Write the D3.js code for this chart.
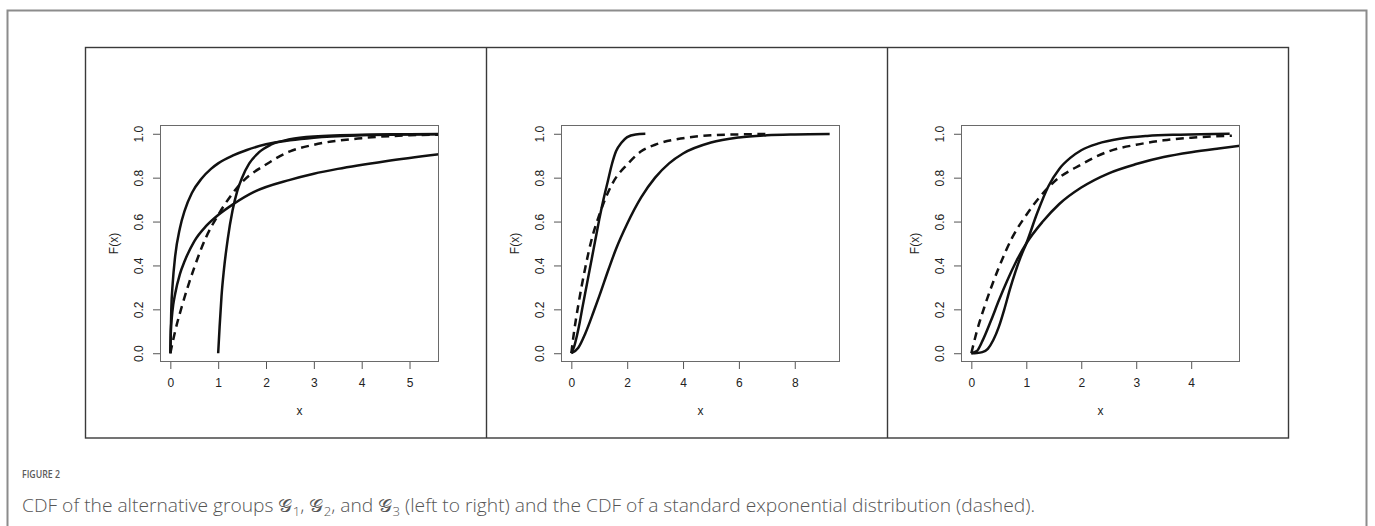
<!DOCTYPE html>
<html>
<head>
<meta charset="utf-8">
<script src="https://cdn.jsdelivr.net/npm/d3@7"></script>
<style>
  html, body { margin: 0; padding: 0; background: #fff; }
  svg { display: block; }
</style>
</head>
<body>
<svg id="chart" width="1375" height="526"></svg>
<script>
// ---------------- DATA ----------------
// Panel 1: group G1
const g1_A_x = [0, 0.02, 0.05, 0.1, 0.2, 0.3, 0.45, 0.65, 0.85, 1.0, 1.3, 1.6, 2.0, 2.5, 3.0, 4.0, 5.0, 5.62];
const g1_A_F = [0, 0.2, 0.32, 0.44, 0.57, 0.65, 0.73, 0.795, 0.84, 0.865, 0.9, 0.926, 0.952, 0.97, 0.982, 0.993, 0.997, 0.998];
const g1_B_x = [1, 1.03, 1.07, 1.12, 1.2, 1.3, 1.4, 1.5, 1.65, 1.85, 2.1, 2.5, 3.0, 4.0, 5.0, 5.62];
const g1_B_F = [0, 0.12, 0.26, 0.38, 0.52, 0.65, 0.74, 0.80, 0.865, 0.915, 0.95, 0.975, 0.988, 0.996, 0.998, 0.999];
const g1_C_x = [0, 0.01, 0.03, 0.06, 0.1, 0.2, 0.3, 0.5, 0.75, 1.0, 1.32, 1.75, 2.5, 3.0, 3.5, 4.5, 5.62];
const g1_C_F = [0, 0.1, 0.16, 0.22, 0.27, 0.36, 0.42, 0.51, 0.58, 0.63, 0.68, 0.735, 0.79, 0.818, 0.84, 0.875, 0.907];
const g1_exp_x = [0, 0.1, 0.25, 0.5, 0.75, 1.0, 1.5, 2.0, 2.5, 3.0, 4.0, 5.0, 5.62];
const g1_exp_F = [0, 0.1, 0.22, 0.39, 0.53, 0.63, 0.78, 0.86, 0.92, 0.95, 0.98, 0.993, 0.996];

// Panel 2: group G2
const g2_D_x = [0, 0.1, 0.2, 0.3, 0.4, 0.55, 0.7, 0.85, 1.0, 1.15, 1.3, 1.45, 1.6, 1.8, 2.0, 2.3, 2.65];
const g2_D_F = [0, 0.03, 0.08, 0.14, 0.21, 0.31, 0.41, 0.51, 0.61, 0.70, 0.78, 0.86, 0.92, 0.96, 0.985, 0.997, 1.0];
const g2_E_x = [0, 0.25, 0.5, 0.8, 1.0, 1.34, 1.6, 2.0, 2.5, 3.0, 3.5, 4.0, 5.0, 6.0, 7.0, 8.0, 9.25];
const g2_E_F = [0, 0.025, 0.09, 0.19, 0.26, 0.385, 0.475, 0.59, 0.71, 0.80, 0.865, 0.91, 0.96, 0.983, 0.993, 0.997, 0.999];
const g2_exp_x = [0, 0.1, 0.25, 0.5, 0.75, 1.0, 1.5, 2.0, 2.5, 3.0, 4.0, 5.0, 6.0, 6.95];
const g2_exp_F = [0, 0.1, 0.22, 0.39, 0.53, 0.63, 0.78, 0.86, 0.92, 0.95, 0.98, 0.993, 0.997, 0.999];

// Panel 3: group G3
const g3_S_x = [0, 0.1, 0.2, 0.3, 0.4, 0.5, 0.6, 0.7, 0.8, 0.9, 1.0, 1.2, 1.4, 1.6, 1.8, 2.0, 2.3, 2.7, 3.2, 3.8, 4.7];
const g3_S_F = [0, 0.001, 0.005, 0.02, 0.06, 0.12, 0.2, 0.29, 0.37, 0.44, 0.50, 0.64, 0.76, 0.84, 0.89, 0.925, 0.955, 0.977, 0.99, 0.996, 1.0];
const g3_L_x = [0, 0.1, 0.2, 0.36, 0.5, 0.66, 0.8, 1.0, 1.3, 1.6, 2.0, 2.5, 3.0, 3.5, 4.0, 4.5, 4.89];
const g3_L_F = [0, 0.01, 0.055, 0.15, 0.24, 0.335, 0.41, 0.50, 0.60, 0.68, 0.755, 0.82, 0.862, 0.894, 0.916, 0.933, 0.945];
const g3_exp_x = [0, 0.1, 0.25, 0.5, 0.75, 1.0, 1.5, 2.0, 2.5, 3.0, 3.5, 4.0, 4.74];
const g3_exp_F = [0, 0.1, 0.22, 0.39, 0.53, 0.63, 0.78, 0.86, 0.92, 0.95, 0.97, 0.982, 0.991];

// Axis tick labels
const g1_xticks = [0, 1, 2, 3, 4, 5];
const g2_xticks = [0, 2, 4, 6, 8];
const g3_xticks = [0, 1, 2, 3, 4];
const yticks = [0, 0.2, 0.4, 0.6, 0.8, 1.0];
const g1_xdomain = [-0.216, 5.616];
const g2_xdomain = [-0.37, 9.62];
const g3_xdomain = [-0.188, 4.888];
const ydomain = [-0.04, 1.04];

const xLabel = "x";
const yLabel = "F(x)";
const figLabel = "FIGURE 2";

// ---------------- DRAWING ----------------
const svg = d3.select("#chart");
svg.append("rect").attr("width", 1375).attr("height", 526).attr("fill", "#fff");

// outer figure frame
svg.append("path")
  .attr("d", "M7.5,526 V10.5 H1366.5 V526")
  .attr("fill", "none").attr("stroke", "#8c8c8c").attr("stroke-width", 2);

// panel frames
const frameLeft = 85.5, frameTop = 47.5, frameBottom = 438, panelW = 401;
svg.append("rect")
  .attr("x", frameLeft).attr("y", frameTop)
  .attr("width", panelW * 3).attr("height", frameBottom - frameTop)
  .attr("fill", "none").attr("stroke", "#3a3a3a").attr("stroke-width", 1.4);
[1, 2].forEach(i => {
  svg.append("line")
    .attr("x1", frameLeft + panelW * i).attr("x2", frameLeft + panelW * i)
    .attr("y1", frameTop).attr("y2", frameBottom)
    .attr("stroke", "#3a3a3a").attr("stroke-width", 1.4);
});

const panels = [
  { left: 160, xdomain: g1_xdomain, xticks: g1_xticks,
    series: [
      { x: g1_A_x, y: g1_A_F, dashed: false },
      { x: g1_B_x, y: g1_B_F, dashed: false },
      { x: g1_C_x, y: g1_C_F, dashed: false },
      { x: g1_exp_x, y: g1_exp_F, dashed: true }
    ] },
  { left: 561, xdomain: g2_xdomain, xticks: g2_xticks,
    series: [
      { x: g2_D_x, y: g2_D_F, dashed: false },
      { x: g2_E_x, y: g2_E_F, dashed: false },
      { x: g2_exp_x, y: g2_exp_F, dashed: true }
    ] },
  { left: 961, xdomain: g3_xdomain, xticks: g3_xticks,
    series: [
      { x: g3_S_x, y: g3_S_F, dashed: false },
      { x: g3_L_x, y: g3_L_F, dashed: false },
      { x: g3_exp_x, y: g3_exp_F, dashed: true }
    ] }
];

const plotW = 279, plotTop = 125, plotBottom = 362;
const font = "'Liberation Sans', Arial, Helvetica, sans-serif";
const fs = 12;

panels.forEach((p, i) => {
  const x = d3.scaleLinear().domain(p.xdomain).range([p.left, p.left + plotW]);
  const y = d3.scaleLinear().domain(ydomain).range([plotBottom, plotTop]);

  const clipId = "clip" + i;
  svg.append("clipPath").attr("id", clipId)
    .append("rect").attr("x", p.left).attr("y", plotTop)
    .attr("width", plotW).attr("height", plotBottom - plotTop);

  const line = d3.line().curve(d3.curveMonotoneX)
    .x(d => x(d[0])).y(d => y(d[1]));

  const g = svg.append("g").attr("clip-path", `url(#${clipId})`);
  p.series.forEach(s => {
    const pts = s.x.map((v, k) => [v, s.y[k]]);
    g.append("path").datum(pts)
      .attr("d", line)
      .attr("fill", "none")
      .attr("stroke", "#111")
      .attr("stroke-width", 2.5)
      .attr("stroke-linejoin", "round")
      .attr("stroke-dasharray", s.dashed ? "8,5.5" : null);
  });

  // plot box
  svg.append("rect")
    .attr("x", p.left + 0.5).attr("y", plotTop + 0.5)
    .attr("width", plotW - 1).attr("height", plotBottom - plotTop - 1)
    .attr("fill", "none").attr("stroke", "#6a6a6a").attr("stroke-width", 1);

  // x axis
  const xa = svg.append("g").attr("transform", `translate(0,${plotBottom})`)
    .call(d3.axisBottom(x).tickValues(p.xticks).tickFormat(d3.format("d"))
      .tickSize(7).tickPadding(10));
  xa.select(".domain").remove();
  xa.selectAll("line").attr("stroke", "#555");
  xa.selectAll("text").attr("font-family", font).attr("font-size", fs).attr("fill", "#222")
    .attr("dy", "0.68em");

  // y axis
  const ya = svg.append("g").attr("transform", `translate(${p.left},0)`)
    .call(d3.axisLeft(y).tickValues(yticks).tickFormat(d3.format(".1f")).tickSize(7));
  ya.select(".domain").remove();
  ya.selectAll("line").attr("stroke", "#555");
  ya.selectAll("text")
    .attr("x", 0).attr("dy", null)
    .attr("text-anchor", "middle")
    .attr("transform", "translate(-17,0) rotate(-90)")
    .attr("font-family", font).attr("font-size", fs).attr("fill", "#222");

  // axis titles
  svg.append("text")
    .attr("x", p.left + plotW / 2).attr("y", 415)
    .attr("text-anchor", "middle")
    .attr("font-family", font).attr("font-size", fs).attr("fill", "#222")
    .text(xLabel);
  svg.append("text")
    .attr("transform", `translate(${p.left - 42.5},${(plotTop + plotBottom) / 2}) rotate(-90)`)
    .attr("text-anchor", "middle")
    .attr("font-family", font).attr("font-size", fs).attr("fill", "#222")
    .text(yLabel);
});

// caption
svg.append("text")
  .attr("x", 22).attr("y", 478)
  .attr("font-family", "'Open Sans', sans-serif").attr("font-weight", 600)
  .attr("font-size", 11.5).attr("fill", "#5a5a5a")
  .attr("textLength", 38).attr("lengthAdjust", "spacingAndGlyphs")
  .text(figLabel);

const cap = svg.append("text")
  .attr("x", 22).attr("y", 512)
  .attr("font-family", "'Open Sans', sans-serif").attr("font-weight", 300)
  .attr("font-size", 17.5).attr("fill", "#555")
  .attr("textLength", 1013).attr("lengthAdjust", "spacingAndGlyphs");
const parts = [
  ["CDF of the alternative groups ", 0],
  ["𝒢", 0], ["1", 1], [", ", -1],
  ["𝒢", 0], ["2", 1], [", and ", -1],
  ["𝒢", 0], ["3", 1], [" (left to right) and the CDF of a standard exponential distribution (dashed).", -1]
];
parts.forEach(([t, sub]) => {
  const ts = cap.append("tspan").text(t);
  if (sub === 1) ts.attr("dy", 4).attr("font-size", 12);
  if (sub === -1) ts.attr("dy", -4);
});
</script>
</body>
</html>
